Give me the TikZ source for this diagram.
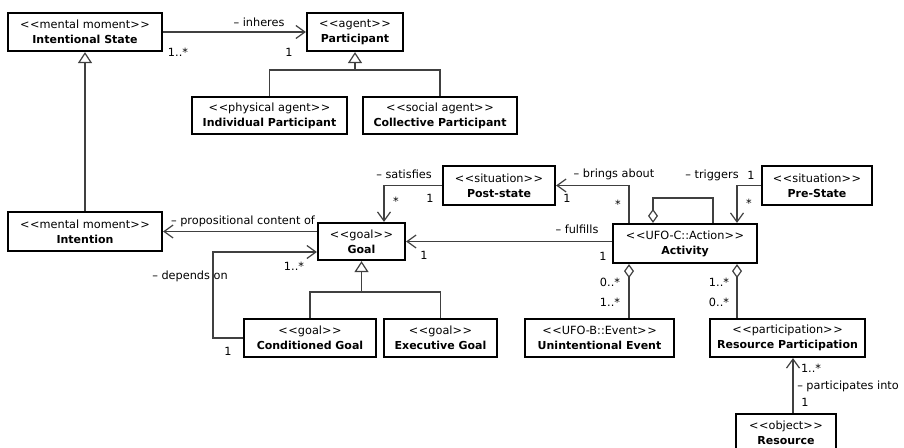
\documentclass[tikz,border=0pt]{standalone}
\usepackage{fontspec}
\setmainfont{DejaVu Sans}
\usetikzlibrary{arrows.meta}
\newcommand{\stereo}[1]{<\kern0.6pt<#1>\kern0.6pt>}
\newcommand{\umlc}[2]{\stereo{#1}\\{\fontsize{11}{15}\selectfont\bfseries #2}}
\begin{document}
\begin{tikzpicture}[x=1pt,y=-1pt,
  cls/.style={draw=black, line width=2.2pt, fill=white, inner sep=0pt, align=center,
    font=\fontsize{11.3}{15}\selectfont},
  lbl/.style={inner sep=0pt, font=\fontsize{11.3}{13}\selectfont},
  conn/.style={draw=black!75, line width=1.2pt},
  assoc/.style={conn, -{Straight Barb[length=9pt,width=13pt]}},
  gen/.style={conn, -{Triangle[open,length=11pt,width=14pt,fill=white]}},
  agg/.style={conn, {Diamond[open,length=14pt,width=10pt,fill=white]}-},
]
\useasboundingbox (0,0) rectangle (904,447);
\fill[white] (0,0) rectangle (904,447);

% classes
\node[cls, minimum width=154, minimum height=38] (IS) at (85,32) {\umlc{mental moment}{Intentional State}};
\node[cls, minimum width=96, minimum height=38] (Part) at (355,32) {\umlc{agent}{Participant}};
\node[cls, minimum width=155, minimum height=37] (IndP) at (269.5,115.5) {\umlc{physical agent}{Individual Participant}};
\node[cls, minimum width=154, minimum height=37] (ColP) at (440,115.5) {\umlc{social agent}{Collective Participant}};
\node[cls, minimum width=154, minimum height=39] (Int) at (85,231.5) {\umlc{mental moment}{Intention}};
\node[cls, minimum width=87, minimum height=37] (Goal) at (361.5,241.5) {\umlc{goal}{Goal}};
\node[cls, minimum width=132, minimum height=38] (CondG) at (310,338) {\umlc{goal}{Conditioned Goal}};
\node[cls, minimum width=113, minimum height=38] (ExecG) at (440.5,338) {\umlc{goal}{Executive Goal}};
\node[cls, minimum width=112, minimum height=39] (Post) at (499,185.5) {\umlc{situation}{Post-state}};
\node[cls, minimum width=110, minimum height=39] (Pre) at (817,185.5) {\umlc{situation}{Pre-State}};
\node[cls, minimum width=144, minimum height=39] (Act) at (685,243.5) {\umlc{UFO-C::Action}{Activity}};
\node[cls, minimum width=149, minimum height=38] (UE) at (599.5,338) {\umlc{UFO-B::Event}{Unintentional Event}};
\node[cls, minimum width=155, minimum height=38] (RP) at (787.5,338) {\umlc{participation}{Resource Participation}};
\node[cls, minimum width=100, minimum height=38] (Res) at (786,433) {\umlc{object}{Resource}};

% junctions
\coordinate (pj) at (Part.south |- 0,70);
\coordinate (gj) at (Goal.south |- 0,292);

% generalizations
\draw[conn] (IndP.north) |- (pj);
\draw[conn] (ColP.north) |- (pj);
\draw[gen] (pj) -- (Part.south);
\draw[gen] (Int.north) -- (IS.south);
\draw[conn] (CondG.north) |- (gj);
\draw[conn] (ExecG.north) |- (gj);
\draw[gen] (gj) -- (Goal.south);

% associations
\draw[assoc] (IS.east) -- (Part.west);
\draw[assoc] (Goal.west |- Int.east) -- (Int.east);
\draw[assoc] (CondG.west) -- (213,338) |- (Goal.west |- 0,252);
\draw[assoc] (Post.west) -| (Goal.north -| 384,0);
\draw[assoc] (Act.north -| 629,0) |- (Post.east);
\draw[assoc] (Act.west |- Goal.east) -- (Goal.east);
\draw[assoc] (Pre.west) -| (Act.north -| 737,0);
\draw[assoc] (Res.north -| 793,0) -- (RP.south -| 793,0);

% aggregations
\draw[agg] (Act.north -| 653,0) |- (713,198) -- (Act.north -| 713,0);
\draw[agg] (Act.south -| 629,0) -- (UE.north -| 629,0);
\draw[agg] (Act.south -| 737,0) -- (RP.north -| 737,0);

% labels
\node[lbl] (l1) at (259,22) {– inheres};
\node[lbl] (l2) at (178,52) {1..*};
\node[lbl] (l3) at (289,52) {1};
\node[lbl] (l4) at (243,221) {– propositional content of};
\node[lbl] (l5) at (294,266) {1..*};
\node[lbl] (l6) at (190,276) {– depends on};
\node[lbl] (l7) at (228,351) {1};
\node[lbl] (l8) at (404,174) {– satisfies};
\node[lbl] (l9) at (396,201) {*};
\node[lbl] (l10) at (430,198) {1};
\node[lbl] (l11) at (567,198) {1};
\node[lbl] (l12) at (614,174) {– brings about};
\node[lbl] (l13) at (618,204) {*};
\node[lbl] (l14) at (577,229) {– fulfills};
\node[lbl] (l15) at (603,256) {1};
\node[lbl] (l16) at (424,255) {1};
\node[lbl] (l17) at (712,175) {– triggers};
\node[lbl] (l18) at (751,175) {1};
\node[lbl] (l19) at (749,203) {*};
\node[lbl] (l20) at (610,282) {0..*};
\node[lbl] (l21) at (610,302) {1..*};
\node[lbl] (l22) at (719,282) {1..*};
\node[lbl] (l23) at (719,302) {0..*};
\node[lbl] (l24) at (811,368) {1..*};
\node[lbl] (l25) at (848,386) {– participates into};
\node[lbl] (l26) at (805,402) {1};
\end{tikzpicture}
\end{document}
